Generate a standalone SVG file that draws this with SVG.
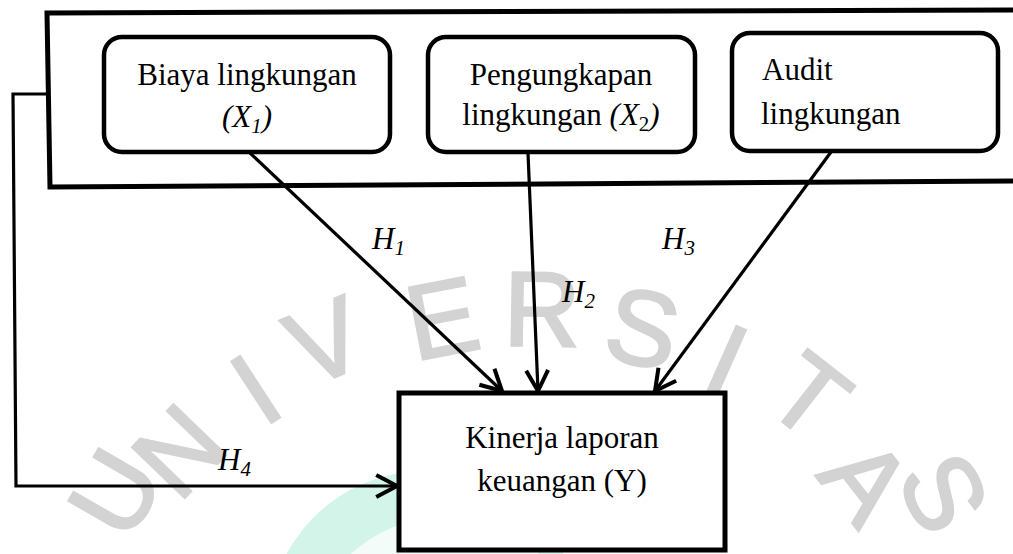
<svg xmlns="http://www.w3.org/2000/svg" width="1013" height="554" viewBox="0 0 1013 554">
  <style>
    .box { fill: #ffffff; stroke: #000000; stroke-width: 4.5; }
    .frame { fill: none; stroke: #000000; stroke-width: 5; stroke-linejoin: miter; }
    .conn { fill: none; stroke: #000000; stroke-width: 3.2; }
    .t { font-family: "Liberation Serif", "Times New Roman", serif; font-size: 31px; fill: #000000; }
    .it { font-style: italic; }
    .wm { font-family: "Liberation Sans", Arial, sans-serif; font-size: 106px; fill: #d3d3d3; stroke: #d3d3d3; stroke-width: 2.5; text-anchor: middle; }
  </style>
  <defs>
    <marker id="arr" markerUnits="userSpaceOnUse" markerWidth="30" markerHeight="30" viewBox="-22 -12 26 24" refX="0" refY="0" orient="auto">
      <path d="M-18,-9.5 L0,0 L-18,9.5" fill="none" stroke="#000000" stroke-width="3.5" stroke-linejoin="miter"/>
    </marker>
  </defs>
  <rect x="0" y="0" width="1013" height="554" fill="#ffffff"/>

  <g id="watermark">
    <circle cx="425" cy="628" r="157" fill="#d3f5e9"/>
    <circle cx="445" cy="655" r="138" fill="#f3fcf9"/>
    <text class="wm" transform="translate(114,492) rotate(-60)" y="38">U</text>
    <text class="wm" transform="translate(178,450) rotate(-46)" y="38">N</text>
    <text class="wm" transform="translate(255,388) rotate(-33)" y="38">I</text>
    <text class="wm" transform="translate(325,340) rotate(-22)" y="38">V</text>
    <text class="wm" transform="translate(442,317) rotate(-11)" y="38">E</text>
    <text class="wm" transform="translate(542,308) rotate(1)" y="38">R</text>
    <text class="wm" transform="translate(643,327) rotate(12)" y="38">S</text>
    <text class="wm" transform="translate(727,360) rotate(24)" y="38">I</text>
    <text class="wm" transform="translate(810,395) rotate(38)" y="38">T</text>
    <text class="wm" transform="translate(867,480) rotate(52)" y="38">A</text>
    <text class="wm" transform="translate(945,492) rotate(63)" y="38">S</text>
  </g>

  <g id="frame">
    <path class="frame" d="M1016,10 L47,13 L50,187 L1016,181"/>
  </g>

  <g id="connectors">
    <line class="conn" x1="250" y1="153" x2="502" y2="391" marker-end="url(#arr)"/>
    <line class="conn" x1="528" y1="153" x2="538" y2="391" marker-end="url(#arr)"/>
    <line class="conn" x1="831" y1="152" x2="655" y2="391" marker-end="url(#arr)"/>
    <path class="conn" d="M47,94 H13 L16,486 H397" marker-end="url(#arr)"/>
  </g>

  <g id="node-x1">
    <rect class="box" x="104" y="37" width="286" height="115" rx="18"/>
    <text class="t" x="247" y="85" text-anchor="middle">Biaya lingkungan</text>
    <text class="t it" x="247" y="127" text-anchor="middle">(X<tspan font-size="21" dy="6">1</tspan><tspan dy="-6">)</tspan></text>
  </g>

  <g id="node-x2">
    <rect class="box" x="428" y="37" width="267" height="115" rx="18"/>
    <text class="t" x="561" y="85" text-anchor="middle">Pengungkapan</text>
    <text class="t" x="561" y="125" text-anchor="middle">lingkungan <tspan class="it">(X</tspan><tspan font-size="21" dy="6">2</tspan><tspan class="it" dy="-6">)</tspan></text>
  </g>

  <g id="node-x3">
    <rect class="box" x="732" y="33" width="266" height="118" rx="18"/>
    <text class="t" x="762" y="80">Audit</text>
    <text class="t" x="761" y="124">lingkungan</text>
  </g>

  <g id="node-y">
    <rect class="box" x="399" y="393" width="326" height="157" style="stroke-width:5"/>
    <text class="t" x="562" y="448" text-anchor="middle">Kinerja laporan</text>
    <text class="t" x="562" y="491" text-anchor="middle">keuangan (Y)</text>
  </g>

  <g id="labels">
    <text class="t it" x="372" y="249">H<tspan font-size="21" dy="6">1</tspan></text>
    <text class="t it" x="562" y="302">H<tspan font-size="21" dy="6">2</tspan></text>
    <text class="t it" x="662" y="249">H<tspan font-size="21" dy="6">3</tspan></text>
    <text class="t it" x="218" y="470">H<tspan font-size="21" dy="6">4</tspan></text>
  </g>
</svg>
